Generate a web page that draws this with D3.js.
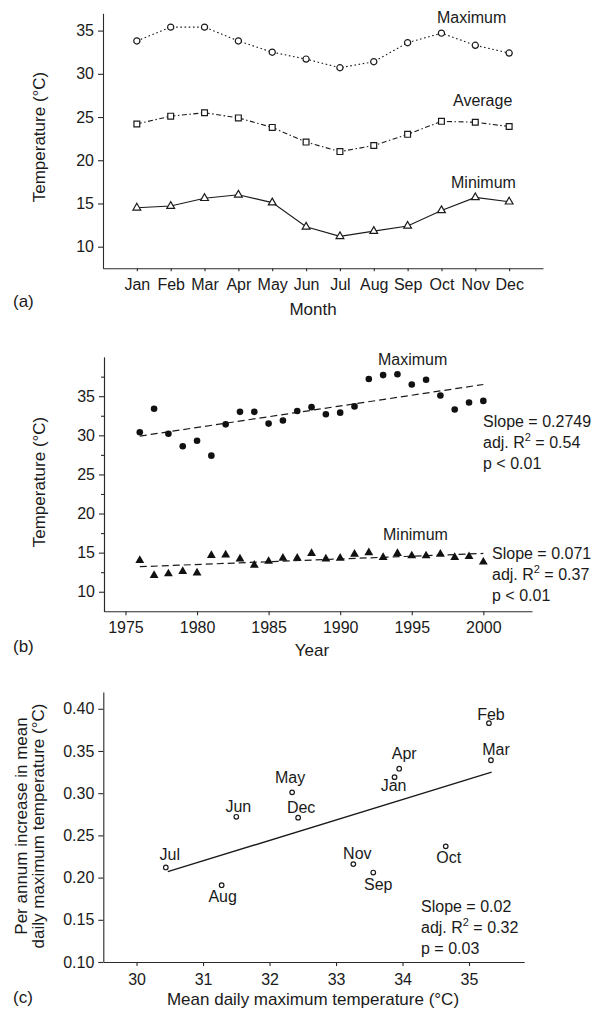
<!DOCTYPE html>
<html>
<head>
<meta charset="utf-8">
<script src="https://cdn.jsdelivr.net/npm/d3@7"></script>
<style>
    body { margin: 0; background: #fff; }
    svg { display: block; }
    text { font-family: "Liberation Sans", Arial, Helvetica, sans-serif; fill: #1a1a1a; }
    .axis path, .axis line { stroke: #2a2a2a; stroke-width: 1.1; }
    .axis text { font-size: 16px; fill: #1a1a1a; font-family: "Liberation Sans", Arial, sans-serif; }
</style>
</head>
<body>
<script>
    // ---- data: panel (a), monthly means ----
    const months = ["Jan", "Feb", "Mar", "Apr", "May", "Jun", "Jul", "Aug", "Sep", "Oct", "Nov", "Dec"];
    const monthMax = [33.8, 35.4, 35.4, 33.8, 32.5, 31.7, 30.7, 31.4, 33.6, 34.7, 33.3, 32.4];
    const monthAvg = [24.2, 25.1, 25.5, 24.9, 23.8, 22.1, 21.0, 21.7, 23.0, 24.5, 24.4, 23.9];
    const monthMin = [14.5, 14.7, 15.6, 16.0, 15.1, 12.3, 11.2, 11.8, 12.4, 14.2, 15.7, 15.2];
    const tempTicks = [10, 15, 20, 25, 30, 35];

    // ---- data: panel (b), annual means ----
    const years = [1976, 1977, 1978, 1979, 1980, 1981, 1982, 1983, 1984, 1985, 1986, 1987, 1988,
                   1989, 1990, 1991, 1992, 1993, 1994, 1995, 1996, 1997, 1998, 1999, 2000];
    const yearMax = [30.4, 33.4, 30.2, 28.6, 29.3, 27.4, 31.4, 33.0, 33.0, 31.5, 31.9, 33.1, 33.6,
                     32.7, 32.9, 33.7, 37.2, 37.7, 37.8, 36.5, 37.1, 35.1, 33.3, 34.2, 34.4];
    const yearMin = [14.0, 12.1, 12.3, 12.6, 12.4, 14.65, 14.7, 14.2, 13.4, 13.9, 14.3, 14.3, 14.9,
                     14.2, 14.3, 14.8, 15.0, 14.4, 14.9, 14.6, 14.6, 14.8, 14.4, 14.5, 13.8];
    const maxTrend = [[1976, 29.9], [2000, 36.5]];
    const minTrend = [[1976, 13.2], [2000, 14.9]];
    const yearTicks = [1975, 1980, 1985, 1990, 1995, 2000];
    const maxStats = ["Slope = 0.2749", "0.54", "p < 0.01"];
    const minStats = ["Slope = 0.071", "0.37", "p < 0.01"];

    // ---- data: panel (c), warming rate vs mean max ----
    const meanMax = [33.88, 35.3, 35.33, 33.95, 32.34, 31.5, 30.44, 31.28, 33.56, 34.65, 33.26, 32.43];
    const increase = [0.319, 0.383, 0.339, 0.329, 0.301, 0.272, 0.212, 0.191, 0.206, 0.237, 0.216, 0.271];
    const rateTrend = [[30.47, 0.207], [35.34, 0.325]];
    const rateTicks = [0.10, 0.15, 0.20, 0.25, 0.30, 0.35, 0.40];
    const meanTicks = [30, 31, 32, 33, 34, 35];
    const rateStats = ["Slope = 0.02", "0.32", "p = 0.03"];

    // label offsets for the month names in (c), in px from the point
    const labelOffset = {
        Jan: [-1, 14], Feb: [2, -3], Mar: [5, -5], Apr: [5, -10], May: [-2, -9], Jun: [2, -5],
        Jul: [4, -7], Aug: [1, 17], Sep: [5, 17], Oct: [3, 17], Nov: [4, -5], Dec: [3, -5]
    };

    const svg = d3.select("body")
        .append("svg")
        .attr("width", 605)
        .attr("height", 1013);

    // stats block with superscript on R
    function statsBlock(x, y, lines) {
        const t = svg.append("text").attr("font-size", "16px");
        t.append("tspan").attr("x", x).attr("y", y).text(lines[0]);
        const l2 = t.append("tspan").attr("x", x).attr("y", y + 21);
        l2.append("tspan").text("adj. R");
        l2.append("tspan").attr("dy", -7).attr("font-size", "11px").text("2");
        l2.append("tspan").attr("dy", 7).text(" = " + lines[1]);
        t.append("tspan").attr("x", x).attr("y", y + 42).text(lines[2]);
    }

    // =================== (a) ===================
    const xA = d3.scaleLinear().domain([0, 13]).range([103, 543]);
    const yA = d3.scaleLinear().domain([7.5, 37]).range([268.3, 13.3]);

    svg.append("g")
        .attr("class", "axis")
        .attr("transform", `translate(${xA(0)},0)`)
        .call(d3.axisLeft(yA).tickValues(tempTicks).tickSize(5).tickSizeOuter(0).tickPadding(4));

    svg.append("g")
        .attr("class", "axis")
        .attr("transform", `translate(0,${yA(7.5)})`)
        .call(d3.axisBottom(xA).tickValues(d3.range(1, 13)).tickFormat(i => months[i - 1])
            .tickSize(3).tickSizeOuter(0).tickPadding(7));

    const seriesA = [
        { values: monthMax, dash: "1.6,2.6", symbol: d3.symbolCircle, size: 30, label: "Maximum", lx: 437, ly: 23 },
        { values: monthAvg, dash: "5,2.5,1.5,2.5", symbol: d3.symbolSquare, size: 34, label: "Average", lx: 453, ly: 106 },
        { values: monthMin, dash: null, symbol: d3.symbolTriangle, size: 26, label: "Minimum", lx: 451, ly: 188 }
    ];

    const lineA = d3.line()
        .x((d, i) => xA(i + 1))
        .y(d => yA(d));

    seriesA.forEach(s => {
        svg.append("path")
            .attr("d", lineA(s.values))
            .attr("fill", "none")
            .attr("stroke", "#1a1a1a")
            .attr("stroke-width", 1.1)
            .attr("stroke-dasharray", s.dash);

        svg.selectAll(null)
            .data(s.values)
            .enter()
            .append("path")
            .attr("transform", (d, i) => `translate(${xA(i + 1)},${yA(d)})`)
            .attr("d", d3.symbol().type(s.symbol).size(s.size))
            .attr("fill", "#fff")
            .attr("stroke", "#1a1a1a")
            .attr("stroke-width", 1.2);

        svg.append("text")
            .attr("x", s.lx)
            .attr("y", s.ly)
            .attr("font-size", "16px")
            .text(s.label);
    });

    svg.append("text")
        .attr("transform", "translate(45,137) rotate(-90)")
        .attr("text-anchor", "middle")
        .attr("font-size", "17px")
        .text("Temperature (°C)");

    svg.append("text").attr("x", 313).attr("y", 315).attr("text-anchor", "middle")
        .attr("font-size", "17px").text("Month");
    svg.append("text").attr("x", 13).attr("y", 307).attr("font-size", "17px").text("(a)");

    // =================== (b) ===================
    const xB = d3.scaleLinear().domain([1973.5, 2003.4]).range([104, 532]);
    const yB = d3.scaleLinear().domain([7.5, 40]).range([611.3, 357.1]);

    svg.append("g")
        .attr("class", "axis")
        .attr("transform", `translate(${xB(1973.5)},0)`)
        .call(d3.axisLeft(yB).tickValues(tempTicks).tickSize(5).tickSizeOuter(0).tickPadding(4));

    // minor ticks on the y axis
    svg.append("g")
        .attr("class", "axis")
        .attr("transform", `translate(${xB(1973.5)},0)`)
        .call(d3.axisLeft(yB).tickValues([12.5, 17.5, 22.5, 27.5, 32.5, 37.5]).tickSize(3)
            .tickSizeOuter(0).tickFormat(""));

    svg.append("g")
        .attr("class", "axis")
        .attr("transform", `translate(0,${yB(7.5)})`)
        .call(d3.axisBottom(xB).tickValues(yearTicks).tickFormat(d3.format("d"))
            .tickSize(4).tickSizeOuter(0).tickPadding(6));

    const lineB = d3.line().x(d => xB(d[0])).y(d => yB(d[1]));

    [maxTrend, minTrend].forEach(tr => {
        svg.append("path")
            .attr("d", lineB(tr))
            .attr("fill", "none")
            .attr("stroke", "#1a1a1a")
            .attr("stroke-width", 1.2)
            .attr("stroke-dasharray", "7,4");
    });

    svg.selectAll(".max-pt")
        .data(yearMax)
        .enter()
        .append("circle")
        .attr("cx", (d, i) => xB(years[i]))
        .attr("cy", d => yB(d))
        .attr("r", 3.3)
        .attr("fill", "#111");

    svg.selectAll(".min-pt")
        .data(yearMin)
        .enter()
        .append("path")
        .attr("transform", (d, i) => `translate(${xB(years[i])},${yB(d)})`)
        .attr("d", d3.symbol().type(d3.symbolTriangle).size(34))
        .attr("fill", "#111");

    svg.append("text").attr("x", 378).attr("y", 365).attr("font-size", "16px").text("Maximum");
    svg.append("text").attr("x", 383).attr("y", 540).attr("font-size", "16px").text("Minimum");
    statsBlock(483, 427, maxStats);
    statsBlock(492, 559, minStats);

    svg.append("text")
        .attr("transform", "translate(45,482) rotate(-90)")
        .attr("text-anchor", "middle")
        .attr("font-size", "17px")
        .text("Temperature (°C)");

    svg.append("text").attr("x", 312).attr("y", 656).attr("text-anchor", "middle")
        .attr("font-size", "17px").text("Year");
    svg.append("text").attr("x", 13).attr("y", 652).attr("font-size", "17px").text("(b)");

    // =================== (c) ===================
    const xC = d3.scaleLinear().domain([29.5, 35.83]).range([103.3, 524.2]);
    const yC = d3.scaleLinear().domain([0.1, 0.42]).range([962, 691.9]);

    svg.append("g")
        .attr("class", "axis")
        .attr("transform", `translate(${xC(29.5)},0)`)
        .call(d3.axisLeft(yC).tickValues(rateTicks).tickFormat(d3.format(".2f"))
            .tickSize(5).tickSizeOuter(0).tickPadding(4));

    svg.append("g")
        .attr("class", "axis")
        .attr("transform", `translate(0,${yC(0.1)})`)
        .call(d3.axisBottom(xC).tickValues(meanTicks).tickFormat(d3.format("d"))
            .tickSize(4).tickSizeOuter(0).tickPadding(8));

    svg.append("path")
        .attr("d", d3.line().x(d => xC(d[0])).y(d => yC(d[1]))(rateTrend))
        .attr("fill", "none")
        .attr("stroke", "#1a1a1a")
        .attr("stroke-width", 1.4);

    svg.selectAll(".rate-pt")
        .data(increase)
        .enter()
        .append("circle")
        .attr("cx", (d, i) => xC(meanMax[i]))
        .attr("cy", d => yC(d))
        .attr("r", 2.3)
        .attr("fill", "#fff")
        .attr("stroke", "#1a1a1a")
        .attr("stroke-width", 1.2);

    svg.selectAll(".rate-label")
        .data(months)
        .enter()
        .append("text")
        .attr("x", (d, i) => xC(meanMax[i]) + labelOffset[d][0])
        .attr("y", (d, i) => yC(increase[i]) + labelOffset[d][1])
        .attr("text-anchor", "middle")
        .attr("font-size", "16px")
        .text(d => d);

    statsBlock(421, 912, rateStats);

    const yTitleC = svg.append("text")
        .attr("transform", "translate(0,826) rotate(-90)")
        .attr("text-anchor", "middle")
        .attr("font-size", "17px");
    yTitleC.append("tspan").attr("x", 0).attr("y", 27).text("Per annum increase in mean");
    yTitleC.append("tspan").attr("x", 0).attr("y", 43.5).text("daily maximum temperature (°C)");

    svg.append("text").attr("x", 313).attr("y", 1005).attr("text-anchor", "middle")
        .attr("font-size", "17px").text("Mean daily maximum temperature (°C)");
    svg.append("text").attr("x", 13).attr("y", 1003).attr("font-size", "17px").text("(c)");
</script>
</body>
</html>
